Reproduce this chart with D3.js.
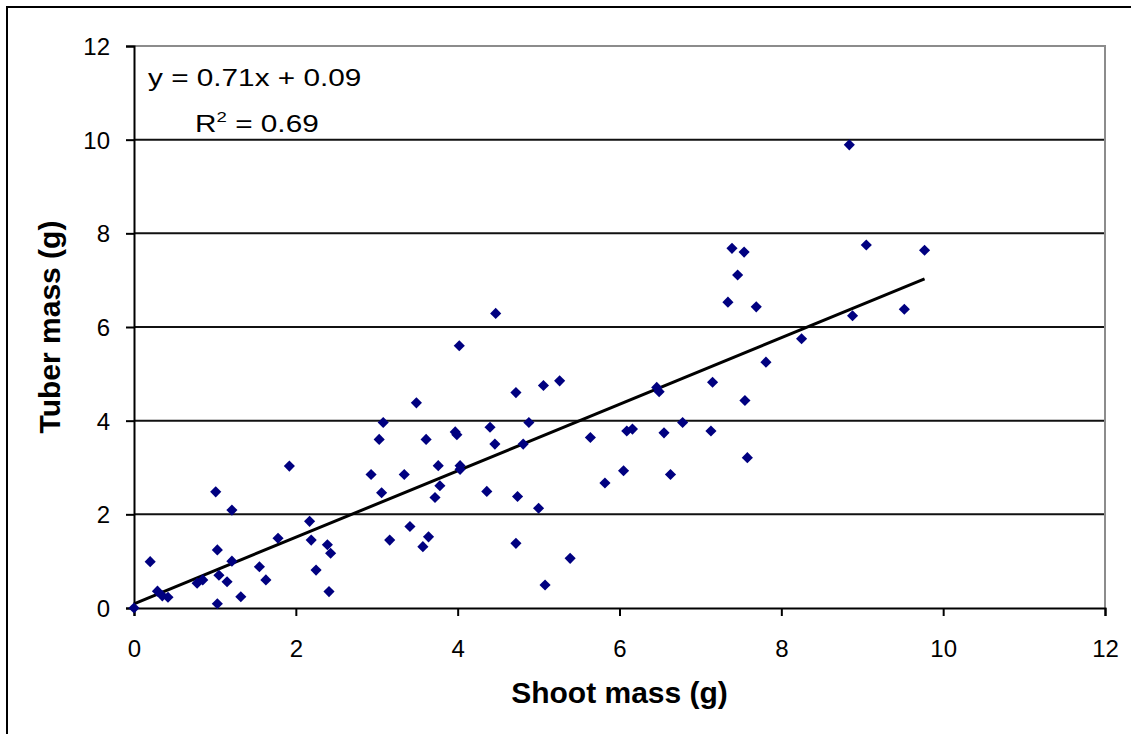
<!DOCTYPE html>
<html>
<head>
<meta charset="utf-8">
<script src="https://cdn.jsdelivr.net/npm/d3@7"></script>
<style>
  html, body { margin: 0; padding: 0; background: #fff; }
  svg { display: block; font-family: "Liberation Sans", Arial, sans-serif; }
</style>
</head>
<body>
<svg id="chart"></svg>
<script>
'use strict';

// data
const shootMass = [0, 0.20, 0.29, 0.35, 0.42, 0.78, 0.85, 1.01, 1.03, 1.05, 1.03, 1.15, 1.21, 1.21, 1.32,
  1.55, 1.63, 1.78, 1.92, 2.17, 2.19, 2.39, 2.43, 2.25, 2.41, 2.93, 3.06, 3.03, 3.08, 3.16, 3.34, 3.41,
  3.49, 3.57, 3.64, 3.61, 3.72, 3.76, 3.78, 3.97, 3.99, 4.02, 4.03, 4.03, 4.40, 4.46, 4.36, 4.47, 4.72,
  4.74, 4.72, 4.81, 4.88, 5.00, 5.06, 5.08, 5.26, 5.39, 5.64, 5.82, 6.05, 6.09, 6.16, 6.46, 6.49, 6.55,
  6.63, 6.78, 7.13, 7.15, 7.34, 7.39, 7.46, 7.54, 7.55, 7.58, 7.69, 7.81, 8.25, 8.84, 8.88, 9.05, 9.52, 9.77];
const tuberMass = [0, 0.99, 0.36, 0.26, 0.23, 0.53, 0.60, 2.48, 1.24, 0.70, 0.09, 0.56, 2.09, 1.00, 0.24,
  0.88, 0.60, 1.49, 3.03, 1.85, 1.45, 1.35, 1.17, 0.81, 0.35, 2.85, 2.46, 3.60, 3.96, 1.45, 2.85, 1.74,
  4.38, 1.31, 1.52, 3.60, 2.36, 3.04, 2.61, 3.76, 3.70, 5.60, 3.04, 2.96, 3.86, 3.50, 2.49, 6.29, 4.60,
  2.38, 1.38, 3.50, 3.96, 2.13, 4.75, 0.49, 4.85, 1.06, 3.64, 2.67, 2.93, 3.78, 3.82, 4.71, 4.62, 3.74,
  2.85, 3.96, 3.78, 4.82, 6.53, 7.68, 7.11, 7.60, 4.43, 3.21, 6.43, 5.25, 5.75, 9.89, 6.24, 7.75, 6.38, 7.64];
const xTicks = [0, 2, 4, 6, 8, 10, 12];
const yTicks = [0, 2, 4, 6, 8, 10, 12];
const slope = 0.71;
const intercept = 0.09;
const rSquared = 0.69;

const width = 1131;
const height = 734;
const margin = {top: 46, right: 26, bottom: 126, left: 134};

const svg = d3.select('#chart')
  .attr('width', width)
  .attr('height', height);

// outer frame (only top/left visible in the picture)
svg.append('rect')
  .attr('x', 7).attr('y', 7)
  .attr('width', width + 20).attr('height', height + 20)
  .attr('fill', 'none')
  .attr('stroke', '#000')
  .attr('stroke-width', 2);

const x = d3.scaleLinear().domain([0, 12]).range([margin.left, width - margin.right]);
const y = d3.scaleLinear().domain([0, 12]).range([height - margin.bottom, margin.top]);

// gridlines
svg.append('g')
  .selectAll('line')
  .data(yTicks.filter(d => d > 0 && d < 12))
  .enter()
  .append('line')
  .attr('x1', x(0)).attr('x2', x(12))
  .attr('y1', d => y(d)).attr('y2', d => y(d))
  .attr('stroke', '#111')
  .attr('stroke-width', 2);

// plot border top / right in grey
svg.append('path')
  .attr('d', `M${x(0)},${y(12)}H${x(12)}V${y(0)}`)
  .attr('fill', 'none')
  .attr('stroke', '#8c8c8c')
  .attr('stroke-width', 2);

// axes
const xAxis = svg.append('g')
  .attr('transform', `translate(0,${y(0)})`)
  .call(d3.axisBottom(x).tickValues(xTicks).tickSize(8).tickPadding(24).tickFormat(d3.format('d')));

const yAxis = svg.append('g')
  .attr('transform', `translate(${x(0)},0)`)
  .call(d3.axisLeft(y).tickValues(yTicks).tickSize(8).tickPadding(16).tickFormat(d3.format('d')));

[xAxis, yAxis].forEach(function(ax) {
  ax.select('.domain').attr('stroke', '#000').attr('stroke-width', 2);
  ax.selectAll('.tick line').attr('stroke', '#000').attr('stroke-width', 2);
  ax.selectAll('.tick text')
    .attr('fill', '#000')
    .style('font-size', '24px')
    .style('font-family', '"Liberation Sans", Arial, sans-serif');
});
yAxis.selectAll('.tick text').attr('dy', '0.36em');

// regression line
const xMax = d3.max(shootMass);
svg.append('line')
  .attr('x1', x(0)).attr('y1', y(intercept))
  .attr('x2', x(xMax)).attr('y2', y(slope * xMax + intercept))
  .attr('stroke', '#000')
  .attr('stroke-width', 3);

// points
const points = shootMass.map((d, i) => ({sx: d, ty: tuberMass[i]}));
const diamond = d3.symbol().type(d3.symbolSquare).size(62);

svg.append('g')
  .selectAll('path')
  .data(points)
  .enter()
  .append('path')
  .attr('d', diamond)
  .attr('transform', d => `translate(${x(d.sx)},${y(d.ty)}) rotate(45)`)
  .attr('fill', '#000080');

// equation label (stretched horizontally like the original)
const eq = svg.append('g')
  .attr('transform', 'translate(148,86) scale(1.24,1)')
  .style('font-size', '24px');

eq.append('text')
  .attr('x', 0).attr('y', 0)
  .text(`y = ${slope}x + ${intercept}`);

const r2 = eq.append('text')
  .attr('x', 38).attr('y', 46);
r2.append('tspan').text('R');
r2.append('tspan').attr('dy', -10).style('font-size', '15px').text('2');
r2.append('tspan').attr('dy', 10).text(` = ${rSquared}`);

// axis titles
svg.append('text')
  .attr('x', (x(0) + x(12)) / 2)
  .attr('y', 703)
  .attr('text-anchor', 'middle')
  .style('font-size', '30px')
  .style('font-weight', 'bold')
  .text('Shoot mass (g)');

svg.append('text')
  .attr('transform', `translate(60,${(y(0) + y(12)) / 2}) rotate(-90)`)
  .attr('text-anchor', 'middle')
  .style('font-size', '30px')
  .style('font-weight', 'bold')
  .text('Tuber mass (g)');
</script>
</body>
</html>
